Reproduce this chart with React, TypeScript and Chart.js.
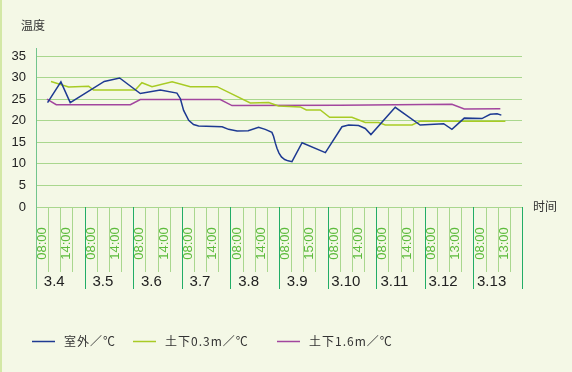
import React, { useEffect, useRef } from "react";
import { Chart, registerables } from "chart.js";

Chart.register(...registerables);

// ---- data (x in hours since 3.4 00:00) ----
const dayLabels = ["3.4", "3.5", "3.6", "3.7", "3.8", "3.9", "3.10", "3.11", "3.12", "3.13"];
const timeLabels = [
  ["08:00", "14:00"], ["08:00", "14:00"], ["08:00", "14:00"], ["08:00", "14:00"], ["08:00", "14:00"],
  ["08:00", "15:00"], ["08:00", "14:00"], ["08:00", "14:00"], ["08:00", "13:00"], ["08:00", "13:00"],
];
const yTicks = [0, 5, 10, 15, 20, 25, 30, 35];
const seriesNames = ["室外／℃", "土下0.3m／℃", "土下1.6m／℃"];

const outdoorHours = [5.7, 12.3, 16.9, 33.7, 41.3, 51.5, 61.4, 69.6, 71.3, 72.9, 75.4, 77.8, 80.3, 91.9, 95.1, 99.3, 104.8, 109.9, 113.2, 116.5, 117.3, 118.2, 119.0, 120.0, 121.2, 122.8, 124.5, 126.4, 131.4, 142.9, 151.1, 154.4, 159.3, 162.6, 165.4, 177.4, 189.7, 201.3, 205.4, 211.5, 220.2, 224.3, 227.7, 229.8];
const outdoorTemp = [24.2, 29.0, 24.2, 29.1, 29.9, 26.3, 27.1, 26.4, 25.1, 22.4, 20.1, 19.1, 18.8, 18.6, 18.0, 17.6, 17.7, 18.5, 18.0, 17.3, 16.4, 14.8, 13.6, 12.5, 11.6, 11.0, 10.7, 10.5, 14.9, 12.6, 18.6, 19.0, 18.9, 18.2, 16.8, 23.1, 19.0, 19.3, 18.0, 20.6, 20.5, 21.5, 21.6, 21.3];

const soil03Hours = [7.4, 16.1, 26.0, 28.4, 49.0, 52.3, 57.3, 67.2, 76.2, 89.4, 105.8, 114.9, 119.8, 130.5, 133.5, 140.4, 145.0, 156.0, 162.6, 169.2, 172.5, 185.7, 189.8, 231.8];
const soil03Temp = [29.1, 27.8, 28.0, 27.1, 27.1, 28.8, 27.9, 29.0, 27.9, 27.9, 24.1, 24.2, 23.4, 23.2, 22.5, 22.5, 20.8, 20.8, 19.6, 19.6, 19.0, 19.0, 19.9, 19.9];

const soil16Hours = [5.4, 10.0, 46.6, 51.5, 91.0, 96.8, 150.3, 205.4, 211.5, 229.3];
const soil16Temp = [25.0, 23.7, 23.7, 24.9, 24.9, 23.5, 23.6, 23.8, 22.7, 22.8];

const colors = ["#1e3a92", "#a8cb24", "#a2469e"];

const toPoints = (xs: number[], ys: number[]) => xs.map((x, i) => ({ x, y: ys[i] }));

const extras = {
  id: "extras",
  beforeDraw(chart: any) {
    const ctx = chart.ctx;
    ctx.save();
    ctx.fillStyle = "#f4f8e6";
    ctx.fillRect(0, 0, chart.width, chart.height);
    ctx.fillStyle = "#d3e8a6";
    ctx.fillRect(0, 0, 2, chart.height);
    ctx.restore();
  },
  afterDraw(chart: any) {
    const ctx = chart.ctx;
    const xs = chart.scales.x;
    const bottom = chart.chartArea.bottom;
    const px = (h: number) => Math.round(xs.getPixelForValue(h)) + 0.5;
    ctx.save();
    ctx.lineWidth = 1;
    // quarter lines below axis
    ctx.strokeStyle = "#a9d78e";
    for (let d = 0; d < dayLabels.length; d++) {
      for (let q = 1; q < 4; q++) {
        const x = px(d * 24 + q * 6);
        ctx.beginPath();
        ctx.moveTo(x, bottom);
        ctx.lineTo(x, 272);
        ctx.stroke();
      }
    }
    // day lines
    ctx.strokeStyle = "#22ad66";
    for (let d = 1; d <= dayLabels.length; d++) {
      const x = px(d * 24);
      ctx.beginPath();
      ctx.moveTo(x, bottom);
      ctx.lineTo(x, 289);
      ctx.stroke();
    }
    // y axis line
    ctx.strokeStyle = "#72c58c";
    const x0 = px(0);
    ctx.beginPath();
    ctx.moveTo(x0, 48);
    ctx.lineTo(x0, 289);
    ctx.stroke();

    // time labels (rotated)
    ctx.fillStyle = "#5cbb3c";
    ctx.font = '13px "Liberation Sans", Arial, sans-serif';
    ctx.textAlign = "center";
    ctx.textBaseline = "middle";
    for (let d = 0; d < dayLabels.length; d++) {
      const offs = [3, 15];
      timeLabels[d].forEach((t, i) => {
        const x = xs.getPixelForValue(d * 24 + offs[i]);
        ctx.save();
        ctx.translate(x + 0.5, 243.5);
        ctx.rotate(-Math.PI / 2);
        ctx.fillText(t, 0, 0);
        ctx.restore();
      });
    }
    // day labels
    ctx.fillStyle = "#222";
    ctx.font = '15px "Liberation Sans", Arial, sans-serif';
    for (let d = 0; d < dayLabels.length; d++) {
      const x = xs.getPixelForValue(d * 24 + 9);
      ctx.fillText(dayLabels[d], x, 282);
    }
    // axis titles
    ctx.fillStyle = "#333";
    ctx.font = '12px "Noto Sans CJK SC", sans-serif';
    ctx.fillText("温度", 33, 25.5);
    ctx.fillText("时间", 545, 206.5);

    // legend
    const starts = [32, 133, 277];
    ctx.textAlign = "left";
    ctx.font = '12px "Noto Sans CJK JP", sans-serif';
    (ctx as any).letterSpacing = "1px";
    seriesNames.forEach((name, i) => {
      const sx = starts[i];
      ctx.strokeStyle = colors[i];
      ctx.lineWidth = 1.5;
      ctx.beginPath();
      ctx.moveTo(sx, 341.5);
      ctx.lineTo(sx + 23, 341.5);
      ctx.stroke();
      ctx.fillStyle = "#333";
      ctx.fillText(name, sx + 32, 341.5);
    });
    ctx.restore();
  },
};

export default function App() {
  const ref = useRef<HTMLCanvasElement | null>(null);
  useEffect(() => {
    if (!ref.current) return;
    const chart = new Chart(ref.current, {
      type: "line",
      data: {
        datasets: [
          { label: seriesNames[0], data: toPoints(outdoorHours, outdoorTemp), borderColor: colors[0], borderWidth: 1.5, pointRadius: 0, tension: 0 },
          { label: seriesNames[1], data: toPoints(soil03Hours, soil03Temp), borderColor: colors[1], borderWidth: 1.5, pointRadius: 0, tension: 0 },
          { label: seriesNames[2], data: toPoints(soil16Hours, soil16Temp), borderColor: colors[2], borderWidth: 1.5, pointRadius: 0, tension: 0 },
        ],
      },
      options: {
        responsive: false,
        animation: false,
        devicePixelRatio: 1,
        layout: { padding: { left: 0, top: 56, right: 50, bottom: 0 } },
        plugins: { legend: { display: false }, tooltip: { enabled: false } },
        scales: {
          x: {
            type: "linear",
            min: 0,
            max: 240,
            grid: { display: false },
            border: { display: false },
            ticks: { display: false },
            afterFit: (s: any) => { s.height = 165; },
          },
          y: {
            min: 0,
            max: 35,
            afterBuildTicks: (s: any) => { s.ticks = yTicks.map((v) => ({ value: v })); },
            grid: { color: "#a9d78e", lineWidth: 1, drawTicks: false },
            border: { display: false },
            ticks: {
              color: "#222",
              padding: 10,
              font: { family: '"Liberation Sans", Arial, sans-serif', size: 13 },
            },
            afterFit: (s: any) => { s.width = 36; },
          },
        },
      },
      plugins: [extras],
    });
    return () => chart.destroy();
  }, []);
  return (
    <div style={{ position: "absolute", left: 0, top: 0, width: 572, height: 372 }}>
      <canvas ref={ref} width={572} height={372} />
    </div>
  );
}
